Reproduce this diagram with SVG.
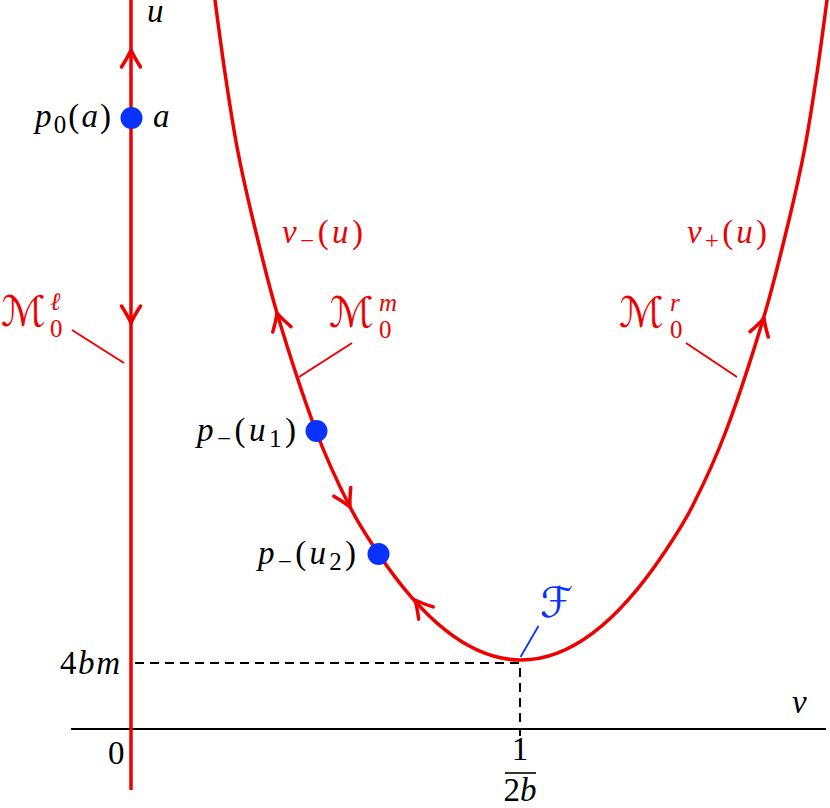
<svg xmlns="http://www.w3.org/2000/svg" width="830" height="808" viewBox="0 0 830 808">
<style>
.t{font-family:"Liberation Serif","DejaVu Serif",serif;font-size:33px;fill:#000}
.i{font-style:italic}
.s{font-size:25px}
.r{fill:#ee0000}
.cal{font-family:"DejaVu Serif","DejaVu Sans",serif;font-size:42px;fill:#ee0000}
.cs{font-family:"Liberation Serif","DejaVu Serif",serif;font-size:25px;fill:#ee0000}
.red{stroke:#ee0000;fill:none;stroke-width:3.5}
.lead{stroke:#ee0000;stroke-width:2;fill:none}
.dash{stroke:#000;stroke-width:2;stroke-dasharray:9 6;fill:none}
.dot{fill:#0a32ff}
</style>
<defs>
<path id="arr" d="M -17,-9.5 Q -6,-2.5 0,0 Q -6,2.5 -17,9.5" fill="none" stroke="#ee0000" stroke-width="3.5" stroke-linecap="round" stroke-linejoin="round"/>
</defs>
<g id="axes">
<line x1="71" y1="729" x2="826" y2="729" stroke="#000" stroke-width="2"/>
<text class="t i" x="792" y="713">v</text>
<text class="t" x="108" y="764">0</text>
</g>
<g id="connectors">
<path class="dash" d="M 135,663 H 520 V 736"/>
<line class="lead" x1="72" y1="330" x2="124" y2="363"/>
<line class="lead" x1="352" y1="343" x2="299" y2="377"/>
<line class="lead" x1="686" y1="343" x2="737" y2="377"/>
<line x1="538.5" y1="626" x2="520.5" y2="657" stroke="#0a32ff" stroke-width="1.8"/>
</g>
<g id="M_l">
<line class="red" x1="131" y1="0" x2="131" y2="790" stroke-width="4"/>
<use href="#arr" transform="translate(131,50) rotate(-90)"/>
<use href="#arr" transform="translate(131,323) rotate(90)"/>
<text class="cal" x="1" y="326">ℳ</text>
<text class="cs i" x="50" y="310">ℓ</text>
<text class="cs" x="50" y="337">0</text>
</g>
<g id="curve">
<path class="red" d="M 214.3,-5 L 215,0 C 218.33,25 221.67,50.7 225,73 C 229,99.7 233,126 237,147 C 242.33,175 247.67,197.9 253,220 C 261,253.2 269,286.2 277,313 C 290,356.6 303,396.4 316,431 C 327.33,461.1 338.67,484.7 350,507 C 359.33,525.4 368.67,539 378,553 Q 521,767 664,553 C 673.33,539 682.67,525.4 692,507 C 703.33,484.7 714.67,461.1 726,431 C 739,396.4 752,356.6 765,313 C 773,286.2 781,253.2 789,220 C 794.33,197.9 799.67,175 805,147 C 809,126 813,99.7 817,73 C 820.33,50.7 823.67,25 827,0 L 827.7,-5"/>
<use href="#arr" transform="translate(277,313) rotate(-106.6)"/>
<use href="#arr" transform="translate(350,507) rotate(63.1)"/>
<use href="#arr" transform="translate(415,600) rotate(-130)"/>
<use href="#arr" transform="translate(764,318) rotate(-73.4)"/>
</g>
<g id="M_m">
<text class="cal" x="329" y="327">ℳ</text>
<text class="cs i" x="379" y="311">m</text>
<text class="cs" x="379" y="338">0</text>
</g>
<g id="M_r">
<text class="cal" x="619" y="327">ℳ</text>
<text class="cs i" x="670" y="311">r</text>
<text class="cs" x="670" y="338">0</text>
</g>
<g id="v_minus">
<text class="t r" x="282" y="243" textLength="81" lengthAdjust="spacing"><tspan class="i">v</tspan><tspan class="s" dy="6">−</tspan><tspan dy="-6">(</tspan><tspan class="i">u</tspan>)</text>
</g>
<g id="v_plus">
<text class="t r" x="687" y="243" textLength="80" lengthAdjust="spacing"><tspan class="i">v</tspan><tspan class="s" dy="6">+</tspan><tspan dy="-6">(</tspan><tspan class="i">u</tspan>)</text>
</g>
<g id="u_label">
<text class="t i" x="147" y="22" font-size="27">u</text>
</g>
<g id="p0">
<circle class="dot" cx="131.5" cy="118" r="11"/>
<text class="t" x="35" y="127" textLength="76" lengthAdjust="spacing"><tspan class="i">p</tspan><tspan class="s" dy="6">0</tspan><tspan dy="-6">(</tspan><tspan class="i">a</tspan>)</text>
<text class="t i" x="153" y="127">a</text>
</g>
<g id="p_u1">
<circle class="dot" cx="316.5" cy="431" r="11"/>
<text class="t" x="197" y="441" textLength="99" lengthAdjust="spacing"><tspan class="i">p</tspan><tspan class="s" dy="6">−</tspan><tspan dy="-6">(</tspan><tspan class="i">u</tspan><tspan class="s" dy="6">1</tspan><tspan dy="-6">)</tspan></text>
</g>
<g id="p_u2">
<circle class="dot" cx="378.5" cy="554" r="11"/>
<text class="t" x="258" y="564" textLength="98" lengthAdjust="spacing"><tspan class="i">p</tspan><tspan class="s" dy="6">−</tspan><tspan dy="-6">(</tspan><tspan class="i">u</tspan><tspan class="s" dy="6">2</tspan><tspan dy="-6">)</tspan></text>
</g>
<g id="F">
<text x="540" y="617" font-family="DejaVu Serif, DejaVu Sans, serif" font-size="42" fill="#0a32ff">ℱ</text>
</g>
<g id="level">
<text class="t" x="60" y="674" textLength="60" lengthAdjust="spacing">4<tspan class="i">bm</tspan></text>
</g>
<g id="fraction">
<text class="t" x="520" y="760" text-anchor="middle">1</text>
<line x1="505" y1="773" x2="536" y2="773" stroke="#000" stroke-width="1.6"/>
<text class="t" x="520" y="801" text-anchor="middle">2<tspan class="i">b</tspan></text>
</g>
</svg>
